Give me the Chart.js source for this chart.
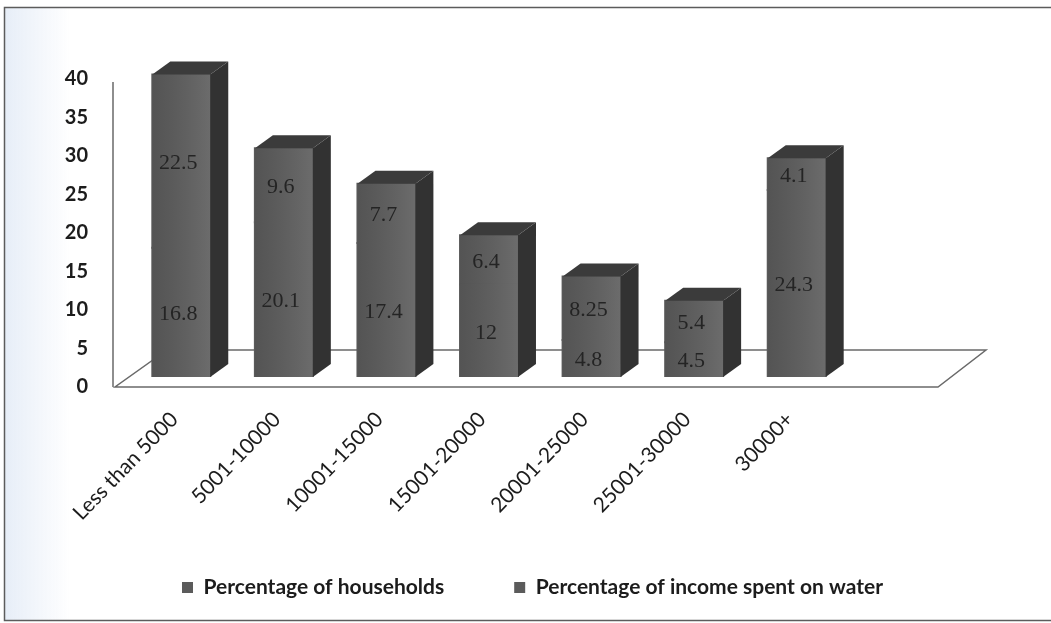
<!DOCTYPE html>
<html>
<head>
<meta charset="utf-8">
<title>Household water spending by income band</title>
<script src="https://cdn.jsdelivr.net/npm/chart.js@4/dist/chart.umd.min.js"></script>
<style>
  html, body { margin: 0; background: #fff; }
  #wrap { width: 1051px; height: 623px; position: relative; }
</style>
</head>
<body>
<div id="wrap"><canvas id="myChart"></canvas></div>
<script>
(() => {
  'use strict';

  const incomeBands = ['Less than 5000', '5001-10000', '10001-15000', '15001-20000', '20001-25000', '25001-30000', '30000+'];
  const households = [16.8, 20.1, 17.4, 12, 4.8, 4.5, 24.3];
  const incomeOnWater = [22.5, 9.6, 7.7, 6.4, 8.25, 5.4, 4.1];
  const seriesNames = ['Percentage of households', 'Percentage of income spent on water'];
  const yTicks = [0, 5, 10, 15, 20, 25, 30, 35, 40];

  const FRONT = '#5b5b5b';
  const SIDE = '#323232';
  const TOP = '#3b3b3b';
  const LINE = '#6a6a6a';
  const INK = '#1c1c1c';
  const DX = 18, DY = 13; // depth of the extruded columns

  const poly = (c, pts, fill) => {
    c.beginPath();
    c.moveTo(pts[0][0], pts[0][1]);
    pts.slice(1).forEach(p => c.lineTo(p[0], p[1]));
    c.closePath();
    c.fillStyle = fill;
    c.fill();
  };

  // page frame plus the faint tint along the left edge
  const framePlugin = {
    id: 'frame',
    beforeDraw: chart => {
      const c = chart.ctx;
      c.save();
      const haze = c.createLinearGradient(4, 0, 70, 0);
      haze.addColorStop(0, 'rgba(200,216,238,0.45)');
      haze.addColorStop(1, 'rgba(200,216,238,0)');
      c.fillStyle = haze;
      c.fillRect(4, 7, 66, 614);
      c.strokeStyle = '#5c5c5c';
      c.lineWidth = 1.5;
      c.strokeRect(4.5, 7.5, chart.width + 20, 613);
      c.restore();
    },
    // rotated category labels hang down into the legend band, so stop them being clipped
    afterLayout: chart => {
      chart.scales.x.bottom = chart.height;
    }
  };

  // floor plane and back wall edge, drawn under the columns
  const floorPlugin = {
    id: 'floor',
    beforeDatasetsDraw: chart => {
      const {left, right, top, bottom} = chart.chartArea;
      const c = chart.ctx;
      c.save();
      c.strokeStyle = LINE;
      c.lineWidth = 1.5;
      c.beginPath();
      c.moveTo(left - 17, top + 13);
      c.lineTo(left - 17, bottom + 10);
      c.moveTo(left - 15, bottom + 10);
      c.lineTo(right + 90, bottom + 10);
      c.lineTo(right + 138, bottom - 27);
      c.lineTo(left + 37, bottom - 27);
      c.closePath();
      c.stroke();
      c.restore();
    }
  };

  // side and top faces of each stacked column, then the value labels
  const columnPlugin = {
    id: 'columns3d',
    afterDatasetsDraw: chart => {
      const c = chart.ctx;
      const metas = chart.data.datasets.map((ds, di) => chart.getDatasetMeta(di));
      c.save();
      chart.data.labels.forEach((lbl, i) => {
        const parts = metas.map(m => m.data[i].getProps(['x', 'y', 'base', 'width'], true));
        const {x, width} = parts[0];
        const y = Math.min(...parts.map(p => p.y));
        const base = Math.max(...parts.map(p => p.base));
        const l = x - width / 2, r = x + width / 2;
        const shine = c.createLinearGradient(l, 0, r, 0);
        shine.addColorStop(0, 'rgba(0,0,0,0.08)');
        shine.addColorStop(1, 'rgba(255,255,255,0.10)');
        c.fillStyle = shine;
        c.fillRect(l, y, width, base - y);
        poly(c, [[r, y], [r + DX, y - DY], [r + DX, base - DY], [r, base]], SIDE);
        poly(c, [[l, y], [l + DX, y - DY], [r + DX, y - DY], [r, y]], TOP);
      });
      c.font = '22px "Liberation Serif", "DejaVu Serif", serif';
      c.fillStyle = '#242424';
      c.textAlign = 'center';
      c.textBaseline = 'middle';
      chart.data.datasets.forEach((ds, di) => {
        metas[di].data.forEach((bar, i) => {
          const {x, y, base} = bar.getProps(['x', 'y', 'base'], true);
          c.fillText(String(ds.data[i]), x - 3, (y + base) / 2 + 2);
        });
      });
      c.restore();
    }
  };

  const ctx = document.getElementById('myChart').getContext('2d');
  new Chart(ctx, {
    type: 'bar',
    data: {
      labels: incomeBands,
      datasets: [
        {label: seriesNames[0], data: households, backgroundColor: FRONT, borderWidth: 0, inflateAmount: 1},
        {label: seriesNames[1], data: incomeOnWater, backgroundColor: FRONT, borderWidth: 0, inflateAmount: 1}
      ]
    },
    options: {
      responsive: true,
      maintainAspectRatio: false,
      animation: false,
      events: [],
      datasets: {bar: {categoryPercentage: 1, barPercentage: 0.565}},
      layout: {padding: {left: 14, top: 69, right: 0, bottom: 15}},
      scales: {
        x: {
          stacked: true,
          grid: {display: false, drawTicks: false},
          border: {display: false},
          ticks: {
            minRotation: 46, maxRotation: 46, padding: 30, labelOffset: -7,
            color: INK, font: {family: 'Lato', size: 21}
          },
          afterFit: s => { s.height = 130; }
        },
        y: {
          stacked: true,
          min: yTicks[0],
          max: yTicks[yTicks.length - 1],
          grid: {display: false, drawTicks: false},
          border: {display: false},
          ticks: {
            stepSize: yTicks[1] - yTicks[0], padding: 42, labelOffset: 10,
            color: INK, font: {family: 'Lato', size: 20, weight: 'bold'}
          },
          afterFit: s => { s.width = 116; }
        },
        spacer: {
          position: 'right',
          grid: {display: false},
          border: {display: false},
          ticks: {display: false},
          afterFit: s => { s.width = 203; }
        }
      },
      plugins: {
        legend: {
          position: 'bottom',
          labels: {
            boxWidth: 11, boxHeight: 11, padding: 70,
            color: INK, font: {family: 'Lato', size: 21, weight: 'bold'}
          }
        },
        tooltip: {enabled: false}
      }
    },
    plugins: [framePlugin, floorPlugin, columnPlugin]
  });
})();
</script>
</body>
</html>
